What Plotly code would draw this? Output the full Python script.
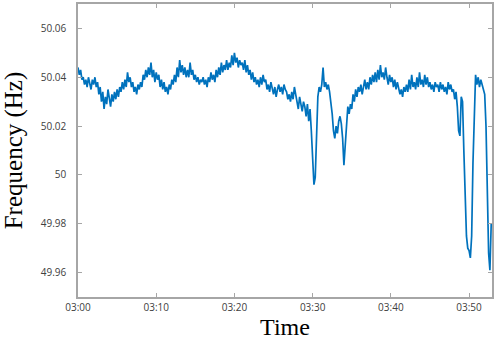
import pandas as pd
import plotly.graph_objects as go

# Grid frequency samples, one every 10 s starting at 03:00 (six per minute)
START = "2020-01-01 03:00:00"
SAMPLE_STEP = "10s"
FREQ_HZ = [
    50.044, 50.041, 50.043, 50.039, 50.040, 50.037,
    50.039, 50.036, 50.040, 50.038, 50.035, 50.039,
    50.037, 50.040, 50.036, 50.038, 50.033, 50.036,
    50.030, 50.034, 50.027, 50.032, 50.029, 50.035,
    50.031, 50.028, 50.033, 50.030, 50.034, 50.031,
    50.035, 50.032, 50.036, 50.034, 50.038, 50.035,
    50.039, 50.036, 50.042, 50.038, 50.040, 50.036,
    50.038, 50.034, 50.036, 50.033, 50.037, 50.035,
    50.038, 50.036, 50.041, 50.039, 50.043, 50.040,
    50.044, 50.041, 50.046, 50.040, 50.043, 50.038,
    50.042, 50.039, 50.041, 50.036, 50.039, 50.035,
    50.038, 50.034, 50.036, 50.033, 50.037, 50.035,
    50.039, 50.037, 50.041, 50.038, 50.044, 50.040,
    50.047, 50.042, 50.045, 50.041, 50.044, 50.040,
    50.043, 50.040, 50.046, 50.041, 50.043, 50.039,
    50.041, 50.038, 50.040, 50.037, 50.039, 50.038,
    50.040, 50.037, 50.039, 50.036, 50.040, 50.038,
    50.042, 50.039, 50.041, 50.038, 50.043, 50.040,
    50.044, 50.041, 50.046, 50.042, 50.045, 50.043,
    50.047, 50.043, 50.046, 50.044, 50.049, 50.045,
    50.050, 50.046, 50.048, 50.044, 50.047, 50.045,
    50.046, 50.043, 50.047, 50.042, 50.045, 50.041,
    50.043, 50.039, 50.042, 50.038, 50.040, 50.037,
    50.039, 50.036, 50.040, 50.037, 50.041, 50.038,
    50.039, 50.035, 50.037, 50.034, 50.038, 50.036,
    50.033, 50.036, 50.032, 50.035, 50.037, 50.034,
    50.036, 50.033, 50.037, 50.035, 50.034, 50.031,
    50.033, 50.030, 50.034, 50.031, 50.036, 50.033,
    50.030, 50.027, 50.032, 50.029, 50.026, 50.030,
    50.028, 50.024, 50.029, 50.022, 50.027, 50.018,
    50.005, 49.996, 49.999, 50.015, 50.032, 50.036,
    50.034, 50.037, 50.044, 50.036, 50.038, 50.035,
    50.037, 50.034, 50.030, 50.025, 50.018, 50.015,
    50.020, 50.017, 50.022, 50.024, 50.021, 50.015,
    50.004, 50.012, 50.024, 50.028, 50.025, 50.029,
    50.027, 50.033, 50.030, 50.035, 50.032, 50.036,
    50.034, 50.037, 50.033, 50.036, 50.039, 50.035,
    50.038, 50.035, 50.040, 50.037, 50.041, 50.038,
    50.042, 50.038, 50.043, 50.039, 50.045, 50.040,
    50.042, 50.039, 50.044, 50.040, 50.037, 50.041,
    50.038, 50.040, 50.036, 50.039, 50.035, 50.038,
    50.036, 50.033, 50.035, 50.032, 50.036, 50.034,
    50.037, 50.034, 50.039, 50.035, 50.041, 50.036,
    50.038, 50.035, 50.040, 50.036, 50.042, 50.037,
    50.039, 50.036, 50.041, 50.037, 50.040, 50.036,
    50.038, 50.035, 50.037, 50.034, 50.038, 50.036,
    50.037, 50.034, 50.038, 50.035, 50.037, 50.034,
    50.036, 50.033, 50.038, 50.035, 50.037, 50.034,
    50.035, 50.031, 50.034, 50.028, 50.018, 50.016,
    50.032, 50.030, 50.010, 49.990, 49.975, 49.970,
    49.969, 49.966, 49.975, 50.005, 50.030, 50.041,
    50.037, 50.040, 50.036, 50.039, 50.037, 50.035,
    50.033, 50.020, 49.995, 49.968, 49.961, 49.980,
]

X_TICKS = ["03:00", "03:10", "03:20", "03:30", "03:40", "03:50"]
Y_TICKS = [49.96, 49.98, 50.0, 50.02, 50.04, 50.06]
Y_TICK_TEXT = ["49.96", "49.98", "50", "50.02", "50.04", "50.06"]

times = pd.date_range(START, periods=len(FREQ_HZ), freq=SAMPLE_STEP)
tick_times = [pd.Timestamp("2020-01-01 " + t) for t in X_TICKS]

AXIS_GREY = "#a6a6a6"
TICK_FONT = dict(family="Open Sans, sans-serif", size=10, color="#404040")
SERIF = "Liberation Serif, Times New Roman, serif"

fig = go.Figure(
    go.Scatter(
        x=times,
        y=FREQ_HZ,
        mode="lines",
        line=dict(color="#0072BD", width=1.7),
        showlegend=False,
    )
)

fig.update_layout(
    width=498,
    height=348,
    margin=dict(l=78, r=6, t=4, b=51),
    paper_bgcolor="white",
    plot_bgcolor="white",
    xaxis=dict(
        automargin=False,
        range=[pd.Timestamp("2020-01-01 03:00:00"), pd.Timestamp("2020-01-01 03:52:56")],
        tickvals=tick_times,
        ticktext=X_TICKS,
        ticks="inside",
        ticklen=4,
        tickcolor=AXIS_GREY,
        showline=True,
        linecolor=AXIS_GREY,
        linewidth=1.5,
        mirror="ticks",
        showgrid=False,
        zeroline=False,
        tickfont=TICK_FONT,
        title=dict(text="Time", font=dict(family=SERIF, size=24, color="black"), standoff=4),
    ),
    yaxis=dict(
        automargin=False,
        range=[49.95, 50.07],
        tickvals=Y_TICKS,
        ticktext=Y_TICK_TEXT,
        ticks="inside",
        ticklen=4,
        tickcolor=AXIS_GREY,
        showline=True,
        linecolor=AXIS_GREY,
        linewidth=1.5,
        mirror="ticks",
        showgrid=False,
        zeroline=False,
        tickfont=TICK_FONT,
        ticklabelstandoff=8,
        title=dict(text="Frequency (Hz)", font=dict(family=SERIF, size=25, color="black"), standoff=12),
    ),
)

# the page body has an 8px default margin; drop it so the figure fills the window
fig.write_html(
    "out.html",
    config={"displayModeBar": False},
    post_script="document.body.style.margin = '0';",
)
